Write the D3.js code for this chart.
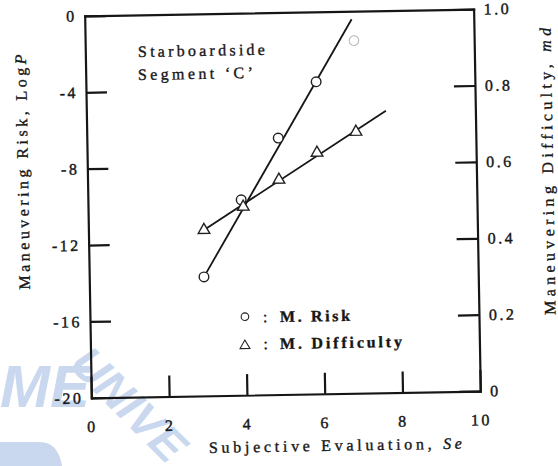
<!DOCTYPE html>
<html>
<head>
<meta charset="utf-8">
<script src="https://cdn.jsdelivr.net/npm/d3@7"></script>
<style>
	body { margin: 0; background: #fff; }
	svg { display: block; }
	.axis text { font-family: "Liberation Serif", "DejaVu Serif", serif; font-size: 16px; letter-spacing: 2.5px; fill: #161616; stroke: #161616; stroke-width: 0.4; }
	.axis path, .axis line { stroke: #161616; stroke-width: 2.2; }
	.label { font-family: "Liberation Serif", "DejaVu Serif", serif; font-size: 16px; fill: #161616; stroke: #161616; stroke-width: 0.35; }
</style>
</head>
<body>
<div id="chart"></div>
<script>
// Axis ticks
var xTicks = [0, 2, 4, 6, 8, 10];
var riskTicks = [0, -4, -8, -12, -16, -20];
var mdTicks = [0, 0.2, 0.4, 0.6, 0.8, 1.0];
var mdTickLabels = ["0", "0.2", "0.4", "0.6", "0.8", "1.0"];

// Maneuvering risk (circles), log P
var riskX = [2.95, 3.94, 4.92, 5.92, 6.91];
var riskY = [-13.77, -9.77, -6.57, -3.66, -1.54];
// Fitted risk line (end points)
var riskFitX = [2.95, 6.86];
var riskFitY = [-13.77, -0.42];

// Maneuvering difficulty (triangles), md
var mdX = [2.97, 3.99, 4.92, 5.91, 6.92];
var mdY = [0.434, 0.493, 0.562, 0.631, 0.684];
// Fitted difficulty line (end points)
var mdFitX = [2.97, 7.70];
var mdFitY = [0.434, 0.738];

var width = 558, height = 466,
		margin = {top: 12.5, right: 81, bottom: 71.5, left: 88};
var w = width - margin.left - margin.right,
		h = height - margin.top - margin.bottom;

var svg = d3.select("#chart").append("svg")
		.attr("width", width)
		.attr("height", height);

// Faint watermark of the scanned page
var wm = svg.append("g")
		.attr("fill", "#c9d8ee")
		.style("font-family", "Liberation Sans, sans-serif")
		.style("font-weight", "bold")
		.style("font-style", "italic");
wm.append("text").attr("x", 0).attr("y", 407).style("font-size", "60px").text("ME");
wm.append("text").attr("transform", "translate(68,366) rotate(45)").style("font-size", "46px").text("UNIVE");
wm.append("path").attr("d", "M0,442 H40 Q58,442 62,466 H0 Z");

// The scan is slightly tilted
var page = svg.append("g").attr("transform", "rotate(-1,282,205)");

var g = page.append("g")
		.attr("transform", "translate(" + margin.left + "," + margin.top + ")");

var x = d3.scaleLinear().domain([0, 10]).range([0, w]);
var yRisk = d3.scaleLinear().domain([-20, 0]).range([h, 0]);
var yMd = d3.scaleLinear().domain([0, 1]).range([h, 0]);

// Axes, ticks pointing inward
g.append("g").attr("class", "axis")
		.call(d3.axisTop(x).tickValues([]).tickSizeOuter(0));

g.append("g").attr("class", "axis")
		.attr("transform", "translate(0," + h + ")")
		.call(d3.axisBottom(x).tickValues(xTicks).tickSizeInner(-21).tickSizeOuter(0).tickPadding(23)
			.tickFormat(function(d) { return String(d); }));

g.append("g").attr("class", "axis")
		.call(d3.axisLeft(yRisk).tickValues(riskTicks).tickSizeInner(-21).tickSizeOuter(0).tickPadding(8)
			.tickFormat(function(d) { return String(d); }));

g.append("g").attr("class", "axis")
		.attr("transform", "translate(" + w + ",0)")
		.call(d3.axisRight(yMd).tickValues(mdTicks).tickSizeInner(-21).tickSizeOuter(0).tickPadding(10)
			.tickFormat(function(d, i) { return mdTickLabels[i]; }));

g.selectAll(".axis .domain").attr("stroke-linecap", "square");

// Fitted lines
var riskLine = d3.line()
		.x(function(d) { return x(d[0]); })
		.y(function(d) { return yRisk(d[1]); });
var mdLine = d3.line()
		.x(function(d) { return x(d[0]); })
		.y(function(d) { return yMd(d[1]); });

g.append("path")
		.datum(d3.zip(riskFitX, riskFitY))
		.attr("d", riskLine)
		.attr("fill", "none")
		.attr("stroke", "#161616")
		.attr("stroke-width", 1.8);

g.append("path")
		.datum(d3.zip(mdFitX, mdFitY))
		.attr("d", mdLine)
		.attr("fill", "none")
		.attr("stroke", "#161616")
		.attr("stroke-width", 1.8);

// Points
g.selectAll(".risk")
		.data(d3.zip(riskX, riskY))
	.enter().append("circle")
		.attr("class", "risk")
		.attr("cx", function(d) { return x(d[0]); })
		.attr("cy", function(d) { return yRisk(d[1]); })
		.attr("r", 4.8)
		.attr("fill", "#fff")
		.attr("stroke", function(d, i) { return i === riskX.length - 1 ? "#b4b4b4" : "#222"; })
		.attr("stroke-width", function(d, i) { return i === riskX.length - 1 ? 1 : 1.4; });

var tri = d3.symbol().type(d3.symbolTriangle).size(58);

g.selectAll(".md")
		.data(d3.zip(mdX, mdY))
	.enter().append("path")
		.attr("class", "md")
		.attr("d", tri)
		.attr("transform", function(d) { return "translate(" + x(d[0]) + "," + yMd(d[1]) + ")"; })
		.attr("fill", "#fff")
		.attr("stroke", "#222")
		.attr("stroke-width", 1.4);

// Text helper: spread text over a given length like the scanned lettering
function label(parent, px, py, parts, len, opts) {
	opts = opts || {};
	var t = parent.append("text")
			.attr("class", "label")
			.attr("x", px)
			.attr("y", py)
			.attr("textLength", len)
			.attr("lengthAdjust", "spacing");
	if (opts.transform) t.attr("transform", opts.transform).attr("x", 0).attr("y", 0);
	if (opts.anchor) t.attr("text-anchor", opts.anchor);
	if (opts.dy) t.attr("dy", opts.dy);
	if (opts.bold) t.style("font-weight", "bold");
	parts.forEach(function(p) {
		t.append("tspan").style("font-style", p.italic ? "italic" : null).text(p.text);
	});
	return t;
}

// Annotation
label(page, 140.6, 54.5, [{text: "Starboardside"}], 127);
label(page, 140.2, 77.5, [{text: "Segment \u2018C\u2019"}], 115);

// Legend
page.append("circle")
		.attr("cx", 243).attr("cy", 316)
		.attr("r", 3.8)
		.attr("fill", "none").attr("stroke", "#222").attr("stroke-width", 1.1);
page.append("path")
		.attr("d", d3.symbol().type(d3.symbolTriangle).size(42))
		.attr("transform", "translate(242.5,345)")
		.attr("fill", "none").attr("stroke", "#222").attr("stroke-width", 1.1);
page.append("text").attr("class", "label").attr("x", 261).attr("y", 322).text(":");
page.append("text").attr("class", "label").attr("x", 261).attr("y", 349).text(":");
label(page, 278, 322, [{text: "M. Risk"}], 70, {bold: true});
label(page, 277.5, 349, [{text: "M. Difficulty"}], 122, {bold: true});

// Axis titles
label(page, 0, 0, [{text: "Maneuvering Risk, Log"}, {text: "P", italic: true}], 235,
		{transform: "translate(23,167.5) rotate(-90)", anchor: "middle", dy: "0.35em"});
label(page, 0, 0, [{text: "Maneuvering Difficulty, "}, {text: "md", italic: true}], 287,
		{transform: "translate(548,176) rotate(-90)", anchor: "middle", dy: "0.35em"});
label(page, 204.7, 451.7, [{text: "Subjective Evaluation, "}, {text: "Se", italic: true}], 253);
</script>
</body>
</html>
